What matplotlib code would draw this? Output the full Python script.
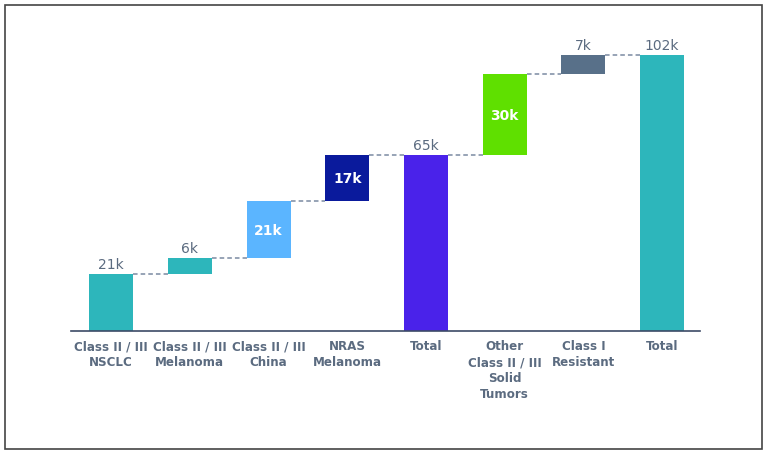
import matplotlib.pyplot as plt
from matplotlib.patches import Rectangle

categories = ["Class II / III\nNSCLC", "Class II / III\nMelanoma", "Class II / III\nChina",
              "NRAS\nMelanoma", "Total", "Other\nClass II / III\nSolid\nTumors",
              "Class I\nResistant", "Total"]
values = [21, 6, 21, 17, 65, 30, 7, 102]
is_total = [False, False, False, False, True, False, False, True]
labels = ["21k", "6k", "21k", "17k", "65k", "30k", "7k", "102k"]
label_inside = [False, False, True, True, False, True, False, False]
colors = ["#2DB6BB", "#2DB6BB", "#5BB5FF", "#0A1A9C", "#4A22EA", "#5FE000", "#587089", "#2DB6BB"]

text_col = "#5B6B80"

fig = plt.figure(figsize=(7.68, 4.56), dpi=100)
ax = fig.add_axes([0.0924, 0.272, 0.819, 0.662])

width = 0.56
bottoms = []
run = 0
for i, v in enumerate(values):
    if is_total[i]:
        b = 0
        run = v
    else:
        b = run
        run = run + v
    bottoms.append(b)
    ax.bar(i, v, bottom=b, width=width, color=colors[i], zorder=2)

tops = [b + v for b, v in zip(bottoms, values)]

# dashed connectors
for i in range(len(values) - 1):
    ax.plot([i + width / 2, i + 1 - width / 2], [tops[i], tops[i]],
            color="#7A8AA2", lw=1.1, ls=(0, (3, 2)), zorder=1)

for i, lab in enumerate(labels):
    if label_inside[i]:
        ax.text(i, bottoms[i] + values[i] / 2, lab, ha="center", va="center",
                color="white", fontsize=10, fontweight="bold")
    else:
        ax.text(i, tops[i] + 1.0, lab, ha="center", va="bottom",
                color=text_col, fontsize=10)

ax.set_xlim(-0.51, 7.48)
ax.set_ylim(0, 111.6)
ax.set_yticks([])
ax.set_xticks(range(len(categories)))
ax.set_xticklabels(categories, fontsize=8.6, fontweight="bold", color=text_col,
                   linespacing=1.3, va="top")
ax.tick_params(axis="x", length=0, pad=6)
for s in ["top", "right", "left"]:
    ax.spines[s].set_visible(False)
ax.spines["bottom"].set_color("#3C4A66")
ax.spines["bottom"].set_linewidth(1.2)

# outer frame
fig.patches.append(Rectangle((5 / 768, 6 / 456), 757 / 768, 444 / 456,
                             transform=fig.transFigure, fill=False,
                             edgecolor="#444444", lw=1.2))

fig.savefig("out.png", dpi=100)
